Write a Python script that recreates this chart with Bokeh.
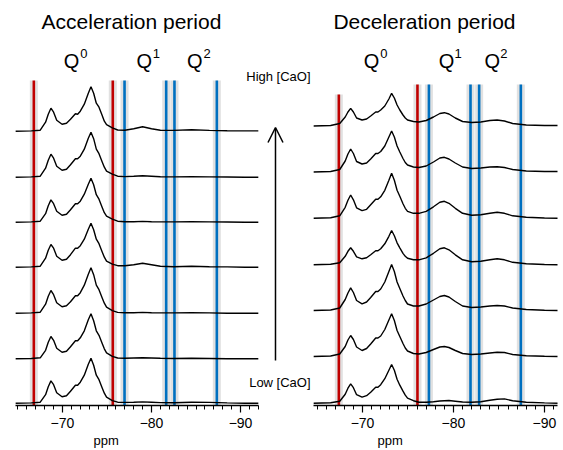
from bokeh.plotting import figure
from bokeh.layouts import row
from bokeh.models import Range1d, FixedTicker, Arrow, OpenHead, Title
from bokeh.embed import file_html
from bokeh.resources import INLINE
from bokeh.core.properties import value

FONT = "Liberation Sans"
RED = "#c00000"
BLUE = "#0070c0"
HALO = "#d4d4d4"

# ---------------- data: acceleration period (left) ----------------
acc_ppm = [-64.7, -66.5, -67.5, -68.1, -68.4, -68.7, -69.0, -69.35, -69.95, -70.45,
           -70.9, -71.45, -71.7, -72.0, -72.45, -72.9, -73.2, -73.5, -73.8, -74.1,
           -74.45, -74.7, -74.95, -75.6, -76.2, -77.0, -78.0, -79.0, -80.0, -81.0,
           -82.5, -84.5, -86.5, -88.5, -90.5, -92.0]
# intensities (bottom = low CaO ... top = high CaO)
acc_1 = [0, 0.3, 1, 8.5, 16.5, 22.3, 18.5, 10.5, 6.5, 7.5, 12, 18, 18, 21, 28, 39, 45, 38, 28, 23.5,
         15.5, 10, 6, 2.5, 1, 0.8, 1, 1.3, 1, 0.6, 0.5, 1, 0.8, 0.3, 0, 0]
acc_2 = [0, 0.3, 1, 8.5, 16.5, 22.3, 18.5, 10.5, 6.5, 7.5, 12, 18, 18, 21, 28, 39, 45, 38, 28, 23.5,
         15.5, 10, 6, 2.5, 0.8, 0.5, 0.8, 1, 0.8, 0.5, 0.3, 0.5, 0.3, 0, 0, 0]
acc_3 = [0, 0.3, 1, 9, 17, 22.7, 18.5, 10.5, 6.5, 7.5, 11.5, 17.5, 17.5, 20.5, 28, 39, 45.5, 38.5, 28, 23.5,
         15.5, 10, 6, 2.5, 0.8, 0.5, 0.5, 0.8, 0.5, 0.3, 0.3, 0.5, 0.3, 0, 0, 0]
acc_4 = [0, 0.3, 1, 9, 17, 22.7, 19, 11, 7, 8, 12.5, 19, 19, 21.5, 28, 38, 44, 37.5, 28, 23.5,
         15.5, 10, 6, 3, 1.5, 1.5, 2.5, 4, 2.5, 1, 0.5, 1, 0.5, 0.3, 0, 0]
acc_5 = [0, 0.3, 1, 8.5, 16.5, 22.3, 18.5, 11, 7, 8, 12.5, 18.5, 18.5, 21, 28, 38, 44, 37.5, 27.5, 23,
         15, 9.5, 6, 3, 1, 0.5, 0.5, 0.8, 0.5, 0.3, 0.3, 0.5, 0.3, 0.2, 0, 0]
acc_6 = [0, 0.3, 1, 9, 17, 23, 19, 11, 7, 8, 12.5, 18.5, 18.5, 21, 28, 39, 45, 38.5, 28, 23.5,
         15.5, 10, 6, 3, 1, 0.6, 1, 1.5, 1, 0.5, 0.3, 0.6, 0.3, 0.2, 0, 0]
acc_7 = [0, 0.3, 1, 9, 17, 23, 19, 11, 7, 8, 12, 17.5, 17, 20, 27, 38, 44.5, 38, 28, 24,
         16, 10, 6.5, 3.3, 1.2, 1, 2.5, 4.5, 2.5, 1, 0.8, 1.5, 0.8, 0.5, 0.3, 0.3]
acc_offsets = [2.3, 46.7, 92.3, 138.3, 183.3, 228.3, 274.3]
acc_red = [-66.78, -75.65]
acc_blue = [-76.97, -81.65, -82.58, -87.34]
acc_line_top = [325, 325]
acc_blue_top = [325, 325, 325, 325]

# ---------------- data: deceleration period (right) ----------------
dec_ppm = [-64.6, -66.5, -67.5, -68.1, -68.4, -68.7, -69.0, -69.35, -69.95, -70.45,
           -70.9, -71.45, -71.7, -72.0, -72.45, -72.9, -73.2, -73.5, -73.8, -74.1,
           -74.45, -74.7, -74.95, -75.6, -76.2, -77.0, -77.8, -78.5, -79.0, -79.5,
           -80.2, -81.0, -82.0, -83.0, -84.0, -84.8, -85.6, -86.5, -88.0, -90.0, -91.5]
dec_1 = [0, 0.5, 2, 9, 15, 19.3, 15.5, 8.5, 6, 7.5, 11, 16, 16, 18.5, 24.5, 33, 38.7, 33, 24, 18,
         12, 8, 5, 2.5, 1, 1, 1.5, 2.2, 2.5, 2.7, 2, 1.2, 1, 1.5, 3, 4, 4.3, 2.5, 1, 0.3, 0]
dec_2 = [0, 0.5, 2.5, 10, 16.5, 21, 17, 9.5, 6, 8, 12.5, 18.5, 18.5, 20.5, 27, 36.5, 42.7, 36, 26, 20,
         13, 8.5, 5.5, 3, 2.5, 4, 7, 9.5, 10, 9, 6, 3, 2, 2.5, 3.5, 4.3, 4, 2, 0.8, 0.3, 0]
dec_3 = [0, 0.5, 2.5, 11, 17.5, 22.7, 18, 10, 6.7, 8.5, 13, 19, 19, 21.5, 28.5, 39, 46, 39, 28.5, 22,
         14.5, 10, 6.5, 4.5, 4.5, 6.5, 10.5, 14, 15, 13.5, 9, 4.5, 3, 3.5, 4.5, 5, 4.5, 2.5, 1, 0.3, 0]
dec_4 = [0, 0.5, 2, 8.5, 13.5, 17, 13.5, 8, 6, 7, 10, 14, 14, 16, 21, 28.5, 34.3, 29, 22, 17,
         11.5, 8.5, 6.5, 5, 5, 7, 11.5, 16, 17, 15, 10, 5, 3, 3.5, 5, 6, 5, 2.5, 1, 0.3, 0]
dec_5 = [0, 0.5, 2.5, 11, 18, 23.3, 18.5, 10.5, 7.7, 9, 13.5, 19, 19, 21.5, 28, 38, 45, 38, 28, 22,
         14.5, 10, 7, 5, 5, 7, 11.5, 16, 17, 15, 10, 5, 3, 3.5, 5, 6, 5, 2.5, 1, 0.3, 0]
dec_6 = [0, 0.5, 2.5, 11, 18, 23, 18.5, 10.5, 8, 9, 13, 18.5, 18.5, 20.5, 26, 35, 41, 35, 26, 20,
         13.5, 9.5, 7, 5, 4.5, 6, 10, 14, 14.7, 13, 9, 5, 3.5, 4, 5, 5.3, 4.5, 2.5, 1, 0.5, 0.5]
dec_7 = [0, 0.5, 2.5, 9, 14, 17.7, 14, 8, 6, 7, 10, 14, 14, 16, 20, 27, 32.7, 28, 21, 16,
         11, 8, 6, 4.5, 4, 5.5, 9, 12.5, 13.3, 12, 8, 4.5, 3.5, 4, 5.5, 6, 5, 2.5, 1, 0.5, 0.5]
dec_offsets = [2.3, 49, 95, 140.7, 187.2, 233.5, 279.5]
dec_red = [-67.4, -76.04]
dec_blue = [-77.3, -81.87, -82.82, -87.4]
dec_line_top = [311, 321]
dec_blue_top = [321, 321, 321, 321]

major_ticks = [-70, -80, -90]
q_labels = ["Q", "Q", "Q"]
q_sups = ["0", "1", "2"]
acc_q_x = [-70.15, -78.31, -84.0]
acc_sup_x = [-72.0, -80.15, -85.85]
dec_q_x = [-70.14, -78.38, -83.4]
dec_sup_x = [-71.95, -80.1, -85.15]


def panel(width, border_l, border_r, xr, axis_bounds, ppm, traces, offsets,
          reds, red_tops, blues, blue_tops, title, title_x, qx, supx, ppm_offset, minor):
    p = figure(width=width, height=450, x_range=Range1d(*xr), y_range=Range1d(0, 405),
               min_border_left=border_l, min_border_right=border_r, min_border_top=0,
               min_border_bottom=45, y_axis_location=None, toolbar_location=None,
               output_backend="svg", outline_line_color=None)
    p.xgrid.visible = False
    p.ygrid.visible = False
    ax = p.xaxis[0]
    ax.ticker = FixedTicker(ticks=major_ticks, minor_ticks=minor)
    ax.bounds = axis_bounds
    ax.axis_line_width = 1.3
    ax.major_tick_out = 7
    ax.major_tick_in = 0
    ax.minor_tick_out = 4
    ax.minor_tick_in = 0
    ax.major_tick_line_width = 1.2
    ax.minor_tick_line_width = 1.0
    ax.major_label_text_font = FONT
    ax.major_label_text_font_size = "14px"
    ax.major_label_text_color = "black"
    ax.major_label_standoff = 5

    allx = reds + blues
    tops = red_tops + blue_tops
    cols = [RED] * len(reds) + [BLUE] * len(blues)
    p.segment(x0=allx, x1=allx, y0=[0] * len(allx), y1=tops, line_color=HALO, line_width=8, line_alpha=0.7)
    p.segment(x0=allx, x1=allx, y0=[0] * len(allx), y1=tops, line_color=cols, line_width=2.6)

    for tr, off in zip(traces, offsets):
        p.line(ppm, [off + v for v in tr], line_color="black", line_width=1.4)

    p.text(x=[title_x], y=[384], text=[title], text_font=value(FONT), text_font_size=value("21px"),
           text_align="center", text_baseline="alphabetic", text_color="black")
    p.text(x=qx, y=[345] * 3, text=q_labels, text_font=value(FONT), text_font_size=value("20px"),
           text_align="left", text_baseline="alphabetic", text_color="black")
    p.text(x=supx, y=[352] * 3, text=q_sups, text_font=value(FONT), text_font_size=value("13px"),
           text_align="left", text_baseline="alphabetic", text_color="black")
    p.add_layout(Title(text="ppm", align="left", offset=ppm_offset, standoff=0, text_font=FONT,
                       text_font_size="13px", text_font_style="normal", text_color="black"), "below")
    return p


left = panel(313, 15, 0, (-64.72, -98.2), (-64.72, -92.0), acc_ppm,
             [acc_1, acc_2, acc_3, acc_4, acc_5, acc_6, acc_7], acc_offsets,
             acc_red, acc_line_top, acc_blue, acc_blue_top, "Acceleration period", -77.75,
             acc_q_x, acc_sup_x, 78, list(range(-65, -93, -1)))
right = panel(250, 0, 6, (-64.615, -91.43), (-64.615, -91.43), dec_ppm,
              [dec_1, dec_2, dec_3, dec_4, dec_5, dec_6, dec_7], dec_offsets,
              dec_red, dec_line_top, dec_blue, dec_blue_top, "Deceleration period", -76.81,
              dec_q_x, dec_sup_x, 64, list(range(-65, -92, -1)))

# concentration arrow and labels between the panels
left.add_layout(Arrow(end=OpenHead(size=15, line_width=1.5), x_start=-93.93, y_start=45,
                      x_end=-93.93, y_end=278, line_width=1.5, line_color="black"))
left.text(x=[-97.87], y=[329], text=["High [CaO]"], text_font=value(FONT), text_font_size=value("13px"),
          text_align="right", text_baseline="alphabetic", text_color="black")
left.text(x=[-97.87], y=[23], text=["Low [CaO]"], text_font=value(FONT), text_font_size=value("13px"),
          text_align="right", text_baseline="alphabetic", text_color="black")

layout = row(left, right, spacing=0)
open("out.html", "w").write(file_html(layout, INLINE))
